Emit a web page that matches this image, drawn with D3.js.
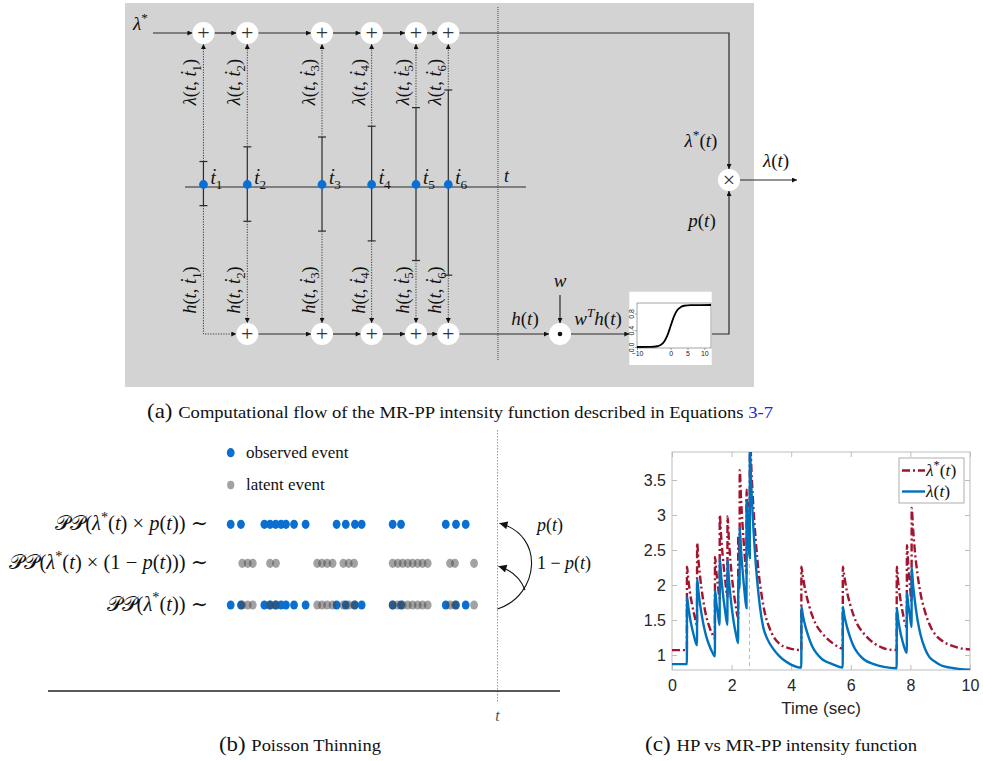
<!DOCTYPE html>
<html>
<head>
<meta charset="utf-8">
<script src="https://cdn.jsdelivr.net/npm/d3@7"></script>
<style>
  body { margin: 0; background: #fff; }
  svg text { font-family: "Liberation Serif", "Times New Roman", "DejaVu Serif", serif; fill: #111; }
  .mat text { font-family: "Liberation Sans", Arial, sans-serif; fill: #262626; }
</style>
</head>
<body>
<svg id="fig" width="983" height="761"></svg>
<script>
"use strict";

// ---- panel (a): computational flow ----
var flowEvents = [0.59, 1.5, 3.05, 4.08, 5.0, 5.67];   // event times t1..t6
var flowNow = 6.7;                                    // current time t
var lambdaParts = [0.26, 0.41, 0.51, 0.62, 0.81, 0.99]; // lambda(t, t_i)
var hParts = [0.19, 0.35, 0.45, 0.55, 0.75, 0.90];      // h(t, t_i)
var sigX = [-10, -6, -4, -3, -2, -1, 0, 1, 2, 3, 4, 6, 12];
var sigY = [0.0, 0.002, 0.018, 0.047, 0.12, 0.27, 0.5, 0.73, 0.88, 0.95, 0.982, 0.998, 1.0];
var sigXTicks = [-10, 0, 5, 10];
var sigYTicks = [0.0, 0.4, 0.8];

// ---- panel (b): poisson thinning ----
var observedTimes = [0.10, 0.48, 1.35, 1.56, 1.77, 1.97, 2.15, 2.45, 2.88, 4.03, 4.37, 4.71, 4.96,
                     6.11, 6.42, 8.08, 8.46, 8.82];
var latentTimes = [0.53, 0.73, 0.92, 1.56, 1.78, 3.31, 3.49, 3.68, 3.88, 4.28, 4.48, 4.68,
                   6.11, 6.30, 6.48, 6.67, 6.85, 7.04, 7.22, 7.41, 8.24, 8.42, 9.13];
var thinNow = 10;

// ---- panel (c): HP vs MR-PP intensity ----
var xTicks = [0, 2, 4, 6, 8, 10];
var yTicks = [1, 1.5, 2, 2.5, 3, 3.5];
var markerTime = 2.6;
var hpIntensity = [ // lambda*(t)
  [0,1.07],[0.50,1.07],[0.502,2.26],[0.55,2.07],[0.60,1.90],[0.67,1.73],[0.75,1.57],[0.84,1.43],
  [0.842,2.60],[0.89,2.34],[0.94,2.13],[1.04,1.80],[1.14,1.57],[1.24,1.42],[1.34,1.31],[1.44,1.24],
  [1.442,2.40],[1.49,2.18],[1.54,2.00],[1.60,1.81],
  [1.602,3.00],[1.65,2.69],[1.70,2.42],[1.78,2.09],[1.86,1.84],
  [1.862,2.98],[1.91,2.64],[1.96,2.35],[2.06,1.93],[2.14,1.70],[2.22,1.53],
  [2.222,2.69],[2.27,2.45],
  [2.272,3.64],[2.32,3.20],[2.37,2.84],[2.43,2.48],[2.50,2.17],
  [2.502,3.36],[2.55,2.95],[2.61,2.58],
  [2.612,4.20],[2.66,3.70],[2.71,3.26],[2.81,2.64],[2.91,2.17],[3.01,1.85],[3.11,1.61],[3.26,1.40],
  [3.41,1.26],[3.61,1.16],[3.91,1.10],[4.34,1.07],
  [4.342,2.26],[4.39,2.13],[4.47,1.93],[4.59,1.72],[4.70,1.57],[4.84,1.43],[5.04,1.31],[5.39,1.17],
  [5.60,1.11],[5.73,1.09],
  [5.732,2.26],[5.78,2.13],[5.86,1.93],[5.98,1.72],[6.09,1.57],[6.23,1.43],[6.43,1.31],[6.77,1.17],
  [7.03,1.11],[7.25,1.08],[7.54,1.07],
  [7.542,2.26],[7.59,2.04],[7.64,1.87],[7.74,1.61],[7.88,1.40],
  [7.882,2.57],[7.93,2.27],[7.98,2.02],[8.04,1.76],
  [8.042,3.10],[8.09,2.80],[8.14,2.53],[8.24,2.15],[8.34,1.88],[8.49,1.62],[8.64,1.44],[8.84,1.29],
  [9.04,1.21],[9.34,1.14],[9.64,1.10],[10,1.08]
];
var mrIntensity = [ // lambda(t)
  [0,0.87],[0.50,0.87],[0.502,1.83],[0.55,1.68],[0.60,1.54],[0.67,1.39],[0.75,1.25],[0.84,1.14],
  [0.842,2.09],[0.89,1.90],[0.94,1.73],[1.04,1.47],[1.14,1.28],[1.24,1.15],[1.34,1.05],[1.44,0.98],
  [1.442,1.93],[1.49,1.74],[1.54,1.59],[1.60,1.43],
  [1.602,2.38],[1.65,2.13],[1.70,1.91],[1.78,1.64],[1.86,1.43],
  [1.862,2.36],[1.91,2.08],[1.96,1.85],[2.06,1.50],[2.14,1.31],[2.22,1.17],
  [2.222,2.11],[2.27,1.95],
  [2.272,2.83],[2.32,2.48],[2.37,2.20],[2.43,1.92],[2.50,1.67],
  [2.502,3.21],[2.55,2.80],[2.61,2.39],
  [2.612,3.95],[2.66,3.41],[2.71,2.97],[2.81,2.31],[2.91,1.84],[2.95,1.69],[3.06,1.40],[3.21,1.22],
  [3.41,1.08],[3.61,0.98],[3.81,0.91],[4.01,0.86],[4.34,0.82],
  [4.342,1.69],[4.39,1.57],[4.47,1.42],[4.59,1.25],[4.70,1.13],[4.84,1.03],[5.04,0.94],[5.38,0.87],
  [5.73,0.82],
  [5.732,1.69],[5.78,1.57],[5.86,1.42],[5.98,1.25],[6.09,1.13],[6.23,1.03],[6.43,0.94],[6.77,0.87],
  [7.11,0.83],[7.54,0.81],
  [7.542,1.67],[7.59,1.51],[7.64,1.38],[7.74,1.19],[7.88,1.03],
  [7.882,1.89],[7.93,1.72],[7.98,1.57],[8.04,1.40],
  [8.042,2.25],[8.09,2.00],[8.14,1.81],[8.24,1.50],[8.34,1.29],[8.49,1.09],[8.64,0.97],[8.84,0.90],
  [9.04,0.85],[9.34,0.82],[10,0.79]
];

var BLUE = "#0a6fd0";
var svg = d3.select("#fig");
var defs = svg.append("defs");

function addMarker(id, w, h) {
  defs.append("marker").attr("id", id)
    .attr("viewBox", "0 0 10 10").attr("refX", 10).attr("refY", 5)
    .attr("markerUnits", "userSpaceOnUse")
    .attr("markerWidth", w).attr("markerHeight", h)
    .attr("orient", "auto")
    .append("path").attr("d", "M0,0L10,5L0,10z").attr("fill", "#111");
}
addMarker("arr", 6, 5);
addMarker("arrBig", 10, 8);

// text with italic / roman / sub / superscript pieces
function mathText(parent, x, y, parts, size, anchor) {
  var t = parent.append("text").attr("x", x).attr("y", y)
    .attr("font-size", size).attr("text-anchor", anchor || "start");
  var cur = 0;
  parts.forEach(function(p) {
    var kind = p[1] || "i";
    var ts = t.append("tspan").text(p[0]);
    var off = 0;
    if (kind[0] === "^") off = -0.42 * size;
    if (kind[0] === "_") off = 0.24 * size;
    if (kind[0] === "^" || kind[0] === "_") ts.attr("font-size", size * 0.7);
    ts.attr("font-style", (kind === "i" || kind === "^i") ? "italic" : "normal");
    if (off !== cur) ts.attr("dy", off - cur);
    cur = off;
  });
  return t;
}

function seg(g, pts, dotted, arrow) {
  var p = g.append("path")
    .attr("d", d3.line()(pts))
    .attr("fill", "none")
    .attr("stroke", dotted ? "#444" : "#2a2a2a")
    .attr("stroke-width", dotted ? 1 : 1.2);
  if (dotted) p.attr("stroke-dasharray", "1.3,1.3");
  if (arrow) p.attr("marker-end", "url(#" + arrow + ")");
  return p;
}

function node(g, x, y, sym) {
  g.append("circle").attr("cx", x).attr("cy", y).attr("r", 11).attr("fill", "#fff");
  if (sym === "dot") {
    g.append("circle").attr("cx", x).attr("cy", y).attr("r", 2.3).attr("fill", "#111");
  } else {
    g.append("text").attr("x", x).attr("y", y + 7).attr("text-anchor", "middle")
      .attr("font-size", 22).style("fill", "#333").text(sym);
  }
}

// =================== panel (a) ===================
var pa = svg.append("g");
pa.append("rect").attr("x", 125).attr("y", 3).attr("width", 629).attr("height", 384)
  .attr("fill", "#d3d3d3");

var flowX = d3.scaleLinear().domain([0, 1]).range([175, 223.2]);
var upY = d3.scaleLinear().domain([0, 1]).range([187, 89]);
var downY = d3.scaleLinear().domain([0, 1]).range([187, 285]);
var topY = 33, midY = 187, lowY = 334, R = 11;
var xs = flowEvents.map(flowX);
var xNow = flowX(flowNow);
var prodX = 729, prodY = 180, dotX = 560;

// vertical dotted line for "now"
pa.append("line").attr("x1", xNow).attr("x2", xNow).attr("y1", 7).attr("y2", 360)
  .attr("stroke", "#444").attr("stroke-dasharray", "1,1");

// time line
seg(pa, [[185, midY], [526, midY]], false);

// top chain
mathText(pa, 133, 30, [["λ", "i"], ["*", "^"]], 19);
seg(pa, [[153, topY], [xs[0] - R, topY]], false, "arr");
xs.forEach(function(x, i) {
  if (i < xs.length - 1) seg(pa, [[x + R, topY], [xs[i + 1] - R, topY]], false, "arr");
});
seg(pa, [[xs[5] + R, topY], [prodX, topY], [prodX, prodY - R]], false, "arr");

// lower chain
seg(pa, [[xs[0], downY(hParts[0])], [xs[0], lowY], [xs[1] - R, lowY]], true, "arr");
xs.forEach(function(x, i) {
  if (i >= 1 && i < xs.length - 1) seg(pa, [[x + R, lowY], [xs[i + 1] - R, lowY]], false, "arr");
});
seg(pa, [[xs[5] + R, lowY], [dotX - R, lowY]], false, "arr");

// stems
xs.forEach(function(x, i) {
  var yu = upY(lambdaParts[i]), yd = downY(hParts[i]);
  seg(pa, [[x, midY], [x, yu]], false);
  seg(pa, [[x - 4, yu], [x + 4, yu]], false);
  seg(pa, [[x, yu], [x, topY + R]], true, "arr");
  seg(pa, [[x, midY], [x, yd]], false);
  seg(pa, [[x - 4, yd], [x + 4, yd]], false);
  if (i > 0) seg(pa, [[x, yd], [x, lowY - R]], true, "arr");
});

// nodes
xs.forEach(function(x, i) {
  node(pa, x, topY, "+");
  if (i > 0) node(pa, x, lowY, "+");
});
node(pa, dotX, lowY, "dot");
node(pa, prodX, prodY, "×");

// event dots and labels
xs.forEach(function(x, i) {
  pa.append("circle").attr("cx", x).attr("cy", 184.5).attr("r", 4.4).attr("fill", BLUE);
  mathText(pa, x + 7, 184, [["ṫ", "i"], [String(i + 1), "_"]], 19);
  mathText(pa, 0, 0, [["λ", "i"], ["(", "r"], ["t", "i"], [", ", "r"], ["ṫ", "i"],
                      [String(i + 1), "_"], [")", "r"]], 18.5, "middle")
    .attr("transform", "translate(" + (x - 7) + ",82) rotate(-90)");
  mathText(pa, 0, 0, [["h", "i"], ["(", "r"], ["t", "i"], [", ", "r"], ["ṫ", "i"],
                      [String(i + 1), "_"], [")", "r"]], 18.5, "middle")
    .attr("transform", "translate(" + (x - 7) + ",290) rotate(-90)");
});
mathText(pa, xNow + 6, 182, [["t", "i"]], 18);

// w input and h(t)
seg(pa, [[dotX, 295], [dotX, lowY - R]], false, "arr");
mathText(pa, dotX, 287, [["w", "i"]], 19, "middle");
mathText(pa, 525, 325, [["h", "i"], ["(", "r"], ["t", "i"], [")", "r"]], 19, "middle");
mathText(pa, 598, 325, [["w", "i"], ["T", "^i"], ["h", "i"], ["(", "r"], ["t", "i"], [")", "r"]], 19, "middle");

// sigmoid inset
var insetX = 629.3, insetW = 82.4;
seg(pa, [[dotX + R, lowY], [insetX, lowY]], false, "arr");
seg(pa, [[insetX + insetW, lowY], [prodX, lowY], [prodX, prodY + R]], false, "arr");
pa.append("rect").attr("x", insetX).attr("y", 291.7).attr("width", insetW).attr("height", 73.3)
  .attr("fill", "#fff");
var sx = d3.scaleLinear().domain([-10, 12]).range([637, 711]);
var sy = d3.scaleLinear().domain([0, 1]).range([347, 305]);
var inset = pa.append("g").attr("class", "mat");
inset.append("rect").attr("x", 637).attr("y", 303).attr("width", 74).attr("height", 45)
  .attr("fill", "none").attr("stroke", "#666").attr("stroke-width", 0.6);
var sBottom = inset.append("g").attr("transform", "translate(0,348)")
  .call(d3.axisBottom(sx).tickValues(sigXTicks).tickSize(2).tickPadding(1));
var sLeft = inset.append("g").attr("transform", "translate(637,0)")
  .call(d3.axisLeft(sy).tickValues(sigYTicks).tickSize(2).tickFormat(d3.format(".1f")));
[sBottom, sLeft].forEach(function(a) {
  a.select(".domain").remove();
  a.selectAll("line").attr("stroke", "#666").attr("stroke-width", 0.6);
  a.selectAll("text").attr("font-size", 7).style("fill", "#222");
});
sLeft.selectAll("text").attr("transform", "rotate(-90)").attr("x", 0).attr("y", -3)
  .attr("dy", 0).attr("text-anchor", "middle");
inset.append("path")
  .datum(d3.zip(sigX, sigY))
  .attr("d", d3.line().x(function(d) { return sx(d[0]); }).y(function(d) { return sy(d[1]); })
    .curve(d3.curveMonotoneX))
  .attr("fill", "none").attr("stroke", "#000").attr("stroke-width", 1.8);

// right side
mathText(pa, 701, 147, [["λ", "i"], ["*", "^"], ["(", "r"], ["t", "i"], [")", "r"]], 19, "middle");
mathText(pa, 702, 227, [["p", "i"], ["(", "r"], ["t", "i"], [")", "r"]], 19, "middle");
seg(svg, [[prodX + R, prodY], [797, prodY]], false, "arr");
mathText(svg, 776, 167, [["λ", "i"], ["(", "r"], ["t", "i"], [")", "r"]], 19, "middle");

// captions
function caption(x, y, tag, body, len, extra) {
  var c = svg.append("text").attr("x", x).attr("y", y).attr("text-anchor", "middle")
    .attr("textLength", len).attr("lengthAdjust", "spacingAndGlyphs");
  c.append("tspan").attr("font-size", 21).text("(" + tag + ") ");
  c.append("tspan").attr("font-size", 17).text(body);
  if (extra) c.append("tspan").attr("font-size", 17).style("fill", "#2323e6").text(extra);
}
caption(460, 418, "a", "Computational flow of the MR-PP intensity function described in Equations ", 626, "3-7");

// =================== panel (b) ===================
var pb = svg.append("g");
var bx = d3.scaleLinear().domain([0, thinNow]).range([228, 497.5]);
var rowY = [524.3, 563.3, 605];
var GRAY = "#454545";

pb.append("line").attr("x1", bx(thinNow)).attr("x2", bx(thinNow)).attr("y1", 430).attr("y2", 703)
  .attr("stroke", "#999").attr("stroke-dasharray", "1.5,1.5");
pb.append("line").attr("x1", 48).attr("x2", 560).attr("y1", 691).attr("y2", 691)
  .attr("stroke", "#222").attr("stroke-width", 1.5);
mathText(pb, bx(thinNow), 721, [["t", "i"]], 16, "middle").style("fill", "#555");

function dots(data, y, fill, op) {
  pb.append("g").selectAll("ellipse").data(data).enter().append("ellipse")
    .attr("cx", function(d) { return bx(d); }).attr("cy", y)
    .attr("rx", 3.9).attr("ry", 4.6)
    .attr("fill", fill).attr("fill-opacity", op);
}
dots(observedTimes, rowY[0], BLUE, 1);
dots(latentTimes, rowY[1], GRAY, 0.5);
dots(observedTimes, rowY[2], BLUE, 1);
dots(latentTimes, rowY[2], GRAY, 0.5);

// legend
pb.append("ellipse").attr("cx", 230.7).attr("cy", 452.7).attr("rx", 3.9).attr("ry", 4.6).attr("fill", BLUE);
pb.append("ellipse").attr("cx", 230.7).attr("cy", 485).attr("rx", 3.6).attr("ry", 4.2)
  .attr("fill", GRAY).attr("fill-opacity", 0.5);
pb.append("text").attr("x", 246).attr("y", 458).attr("font-size", 17).text("observed event");
pb.append("text").attr("x", 246).attr("y", 490).attr("font-size", 17).text("latent event");

// row labels
var PP = ["𝒫𝒫", "r"];
mathText(pb, 208, rowY[0] + 6, [PP, ["(", "r"], ["λ", "i"], ["*", "^"], ["(", "r"], ["t", "i"], [") × ", "r"],
  ["p", "i"], ["(", "r"], ["t", "i"], [")) ∼", "r"]], 20.5, "end");
mathText(pb, 208, rowY[1] + 6, [PP, ["(", "r"], ["λ", "i"], ["*", "^"], ["(", "r"], ["t", "i"], [") × (1 − ", "r"],
  ["p", "i"], ["(", "r"], ["t", "i"], ["))) ∼", "r"]], 20.5, "end");
mathText(pb, 208, rowY[2] + 6, [PP, ["(", "r"], ["λ", "i"], ["*", "^"], ["(", "r"], ["t", "i"], [")) ∼", "r"]], 20.5, "end");

// thinning arrows
var xt = bx(thinNow);
pb.append("path").attr("d", "M" + xt + "," + (rowY[2] + 4) + " C540,595 545,535 " + (xt + 2) + "," + (rowY[0] - 1))
  .attr("fill", "none").attr("stroke", "#111").attr("stroke-width", 1.1).attr("marker-end", "url(#arrBig)");
pb.append("path").attr("d", "M525,590 Q518,572 " + (xt + 1) + "," + (rowY[1] + 3))
  .attr("fill", "none").attr("stroke", "#111").attr("stroke-width", 1.1).attr("marker-end", "url(#arrBig)");
mathText(pb, 550, 531, [["p", "i"], ["(", "r"], ["t", "i"], [")", "r"]], 18, "middle");
mathText(pb, 564, 569, [["1 − ", "r"], ["p", "i"], ["(", "r"], ["t", "i"], [")", "r"]], 18, "middle");

caption(300, 751, "b", "Poisson Thinning", 162);

// =================== panel (c) ===================
var cx = d3.scaleLinear().domain([0, 10]).range([672, 970]);
var cy = d3.scaleLinear().domain([0.786, 3.9]).range([670, 452]);
var pc = svg.append("g").attr("class", "mat");
var AX = "#bdbdbd";

defs.append("clipPath").attr("id", "plotClip").append("rect")
  .attr("x", 672).attr("y", 452).attr("width", 298).attr("height", 218);

function styleAxis(a) {
  a.select(".domain").remove();
  a.selectAll("line").attr("stroke", AX);
  a.selectAll("text").attr("font-size", 16);
}
var fmt = d3.format("~g");
styleAxis(pc.append("g").attr("transform", "translate(0,670)")
  .call(d3.axisBottom(cx).tickValues(xTicks).tickFormat(fmt).tickSizeInner(-5).tickSizeOuter(0).tickPadding(10)));
styleAxis(pc.append("g").attr("transform", "translate(672,0)")
  .call(d3.axisLeft(cy).tickValues(yTicks).tickFormat(fmt).tickSizeInner(-5).tickSizeOuter(0).tickPadding(6)));
styleAxis(pc.append("g").attr("transform", "translate(0,452)")
  .call(d3.axisTop(cx).tickValues(xTicks).tickSizeInner(-5).tickSizeOuter(0).tickFormat("")));
styleAxis(pc.append("g").attr("transform", "translate(970,0)")
  .call(d3.axisRight(cy).tickValues(yTicks).tickSizeInner(-5).tickSizeOuter(0).tickFormat("")));
pc.append("rect").attr("x", 672).attr("y", 452).attr("width", 298).attr("height", 218)
  .attr("fill", "none").attr("stroke", AX);

pc.append("line").attr("x1", cx(markerTime)).attr("x2", cx(markerTime))
  .attr("y1", 452).attr("y2", 670)
  .attr("stroke", "#bbb").attr("stroke-dasharray", "4,3");

var intensityLine = d3.line()
  .x(function(d) { return cx(d[0]); })
  .y(function(d) { return cy(d[1]); })
  .curve(d3.curveMonotoneX);
var plot = pc.append("g").attr("clip-path", "url(#plotClip)");
plot.append("path").datum(hpIntensity).attr("d", intensityLine)
  .attr("fill", "none").attr("stroke", "#a2142f").attr("stroke-width", 2.4)
  .attr("stroke-dasharray", "8,3,2,3");
plot.append("path").datum(mrIntensity).attr("d", intensityLine)
  .attr("fill", "none").attr("stroke", "#0072bd").attr("stroke-width", 2.4);

pc.append("text").attr("x", 821).attr("y", 714).attr("text-anchor", "middle")
  .attr("font-size", 17).text("Time (sec)");

// legend
var lg = svg.append("g");
lg.append("rect").attr("x", 899).attr("y", 458).attr("width", 65).attr("height", 45)
  .attr("fill", "#fff").attr("stroke", "#9a9a9a").attr("stroke-width", 0.8);
lg.append("line").attr("x1", 902).attr("x2", 925).attr("y1", 470.5).attr("y2", 470.5)
  .attr("stroke", "#a2142f").attr("stroke-width", 2.4).attr("stroke-dasharray", "8,3,2,3");
lg.append("line").attr("x1", 902).attr("x2", 925).attr("y1", 491.5).attr("y2", 491.5)
  .attr("stroke", "#0072bd").attr("stroke-width", 2.4);
mathText(lg, 926, 476, [["λ", "i"], ["*", "^"], ["(", "r"], ["t", "i"], [")", "r"]], 17.5);
mathText(lg, 926, 497, [["λ", "i"], ["(", "r"], ["t", "i"], [")", "r"]], 17.5);

caption(781, 751, "c", "HP vs MR-PP intensity function", 272);
</script>
</body>
</html>
